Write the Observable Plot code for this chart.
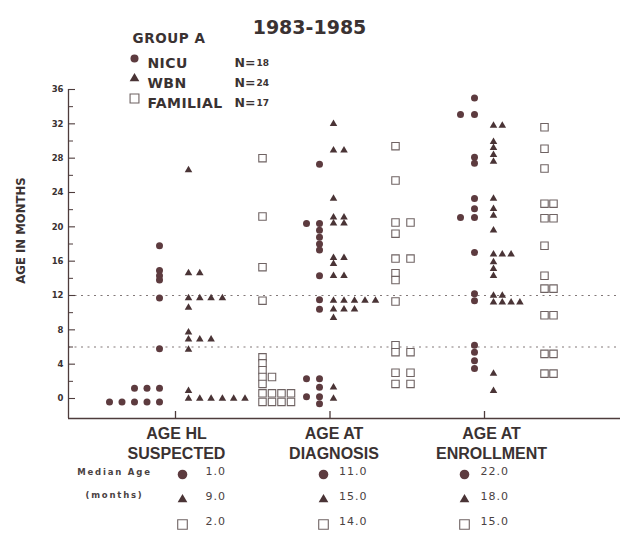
<!DOCTYPE html>
<html><head><meta charset="utf-8">
<script src="https://cdn.jsdelivr.net/npm/d3@7"></script>
<script src="https://cdn.jsdelivr.net/npm/@observablehq/plot@0.6"></script>
<style>
html,body{margin:0;padding:0;background:#fff;}
#chart{width:634px;height:534px;}
</style></head><body><div id="chart"></div>
<script>
// ---------- data ----------
const title = "1983-1985";
const groupTitle = "GROUP A";
const yLabel = "AGE IN MONTHS";
const groupLabels = ["AGE HL\nSUSPECTED", "AGE AT\nDIAGNOSIS", "AGE AT\nENROLLMENT"];
const seriesNames = ["NICU", "WBN", "FAMILIAL"];
const seriesN = ["18", "24", "17"];
const yTicks = [0, 4, 8, 12, 16, 20, 24, 28, 32, 36];
const yMinorTicks = [2, 6, 10, 14, 18, 22, 26, 30, 34];
const refLines = [12, 6];
const medianNICU = [1.0, 11.0, 22.0];
const medianWBN = [9.0, 15.0, 18.0];
const medianFAM = [2.0, 14.0, 15.0];
const medianLabel = ["Median Age", "(months)"];

// ages in months (equal values are stacked side by side)
const nicuSuspected = [17.8, 14.9, 14.3, 13.8, 11.7, 5.8, 1.2, 1.2, 1.2, -0.4, -0.4, -0.4, -0.4, -0.4];
const wbnSuspected = [26.6, 14.6, 14.6, 11.7, 11.7, 11.7, 11.7, 10.6, 7.7, 6.9, 6.9, 6.9, 5.7, 0.9, 0, 0, 0, 0, 0, 0];
const famSuspected = [28, 21.2, 15.3, 11.4, 4.8, 4.1, 3.3, 2.5, 2.5, 1.7, 0.6, 0.6, 0.6, 0.6, -0.4, -0.4, -0.4, -0.4];

const nicuDiagnosis = [27.3, 20.4, 20.4, 19.6, 18.8, 18.0, 17.3, 14.3, 11.5, 10.4, 2.3, 2.3, 1.3, 0.2, 0.2, -0.6];
const wbnDiagnosis = [32, 28.9, 28.9, 23.3, 21.1, 21.1, 20.4, 20.4, 16.4, 16.4, 15.7, 14.3, 14.3, 11.4, 11.4, 11.4, 11.4, 11.4, 10.4, 10.4, 10.4, 9.4, 1.3, 0];
const famDiagnosis = [29.4, 25.4, 20.5, 20.5, 19.2, 16.3, 16.3, 14.6, 13.8, 11.3, 6.2, 5.4, 5.4, 3.0, 3.0, 1.7, 1.7];

const nicuEnrollment = [35, 33.1, 33.1, 28.1, 27.4, 23.3, 22.1, 21.1, 21.1, 17, 12.2, 11.4, 6.2, 5.4, 4.4, 3.5];
const wbnEnrollment = [31.8, 31.8, 29.9, 29.2, 28.4, 27.6, 23.3, 22.1, 21.3, 19.6, 16.8, 16.8, 16.8, 15.9, 15.1, 14.3, 12, 12, 11.2, 11.2, 11.2, 11.2, 2.9, 0.9];
const famEnrollment = [31.6, 29.1, 26.8, 22.7, 22.7, 21.0, 21.0, 17.8, 14.3, 12.8, 12.8, 9.7, 9.7, 5.2, 5.2, 2.9, 2.9];

// ---------- layout ----------
const W = 634, H = 534;
const M = {top: 89, right: 14, bottom: 116, left: 68};
const unit = 154.5;                        // px between group ticks
const xDomain = [-(175 - M.left) / unit, (W - M.right - 175) / unit];
const yDomain = [-2.33, 36];
const frameW = W - M.left - M.right, frameH = H - M.top - M.bottom;
// column offsets / stacking steps (px) per group & series
const colOffsetPx = [[-16, 13, 87], [-10.5, 3.5, 65.5], [-10, 9, 60]];
const stepPx = [[-12.5, 11.3, 9.5], [-13, 10.5, 15], [-14, 8.8, 9]];
const labelShiftPx = [1, 4, 7];
const tableSymPx = [7, -6.5, -20];
const tableValPx = [30, 9, -4];
const tableRowDy = [56, 81, 106];

const ink = "#3a3232";
const circleFill = "#5d3b3f", triFill = "#4a3436", sqStroke = "#6f6363";
const axisInk = "#4e3c3c";

const valuesByGroup = [
  [nicuSuspected, wbnSuspected, famSuspected],
  [nicuDiagnosis, wbnDiagnosis, famDiagnosis],
  [nicuEnrollment, wbnEnrollment, famEnrollment]
];
const points = [];
valuesByGroup.forEach((arr, g) => arr.forEach((vals, s) => {
  const seen = new Map();
  vals.forEach(v => {
    const k = seen.get(v) || 0; seen.set(v, k + 1);
    points.push({g, s, value: v, x: g + (colOffsetPx[g][s] + k * stepPx[g][s]) / unit});
  });
}));

const symStyle = [
  {symbol: "circle", fill: circleFill, stroke: "none"},
  {symbol: "triangle", fill: triFill, stroke: "none"},
  {symbol: "square", fill: "#fff", stroke: sqStroke, strokeWidth: 1.1}
];
const plotR = [3.5, 2.8, 4.2];
const legendR = [4, 3.6, 5];
const tableR = [4.8, 3.6, 5.4];
const medians = [medianNICU, medianWBN, medianFAM];

const bold = {fontWeight: "bold", fill: ink, fontFamily: "DejaVu Sans"};

const marks = [
  Plot.ruleY(refLines, {stroke: "#827878", strokeWidth: 1.2, strokeDasharray: "2,4.5"}),
  Plot.ruleX([xDomain[0]], {stroke: axisInk, strokeWidth: 1.3}),
  Plot.ruleY([yDomain[0]], {stroke: axisInk, strokeWidth: 1.3}),
  Plot.tickY(yTicks, {y: d => d, insetRight: frameW - 7, stroke: axisInk, strokeWidth: 1.1}),
  Plot.tickY(yMinorTicks, {y: d => d, insetRight: frameW - 5, stroke: axisInk, strokeWidth: 1}),
  Plot.tickX([0, 1, 2], {x: d => d, insetTop: frameH - 7, stroke: axisInk, strokeWidth: 1.3}),
  Plot.text(yTicks, {y: d => d, frameAnchor: "left", textAnchor: "end", dx: -5, fontSize: 8.5, ...bold}),
  Plot.text([yLabel], {frameAnchor: "left", textAnchor: "middle", rotate: -90, dx: -47, dy: -23.5, fontSize: 11.7, ...bold}),
  // data points
  ...[0, 1, 2].map(s => Plot.dot(points.filter(d => d.s === s), {x: "x", y: "value", r: plotR[s], ...symStyle[s]})),
  // category labels
  Plot.text(groupLabels, {x: (d, i) => i + labelShiftPx[i] / unit, frameAnchor: "bottom", dy: 24,
    lineAnchor: "middle", lineHeight: 1.25, fontSize: 16, fontWeight: "bold", fill: ink, fontFamily: "Liberation Sans"}),
  // median table
  Plot.text([medianLabel[0]], {frameAnchor: "bottom-left", textAnchor: "middle", dx: 46, dy: 56, fontSize: 8.5, ...bold, fill: "#4a4242"}),
  Plot.text([medianLabel[1]], {frameAnchor: "bottom-left", textAnchor: "middle", dx: 46, dy: 79, fontSize: 8.5, ...bold, fill: "#4a4242"}),
  ...[0, 1, 2].map(s => Plot.dot([0, 1, 2], {x: i => i + tableSymPx[i] / unit, frameAnchor: "bottom", dy: tableRowDy[s], r: tableR[s], ...symStyle[s]})),
  ...[0, 1, 2].map(s => Plot.text([0, 1, 2], {x: i => i + tableValPx[i] / unit, frameAnchor: "bottom", dy: tableRowDy[s],
    text: i => medians[s][i].toFixed(1), textAnchor: "start", fontSize: 11, fontFamily: "DejaVu Sans", fill: "#4a4242"})),
  // title and legend
  Plot.text([title], {frameAnchor: "top-left", textAnchor: "middle", dx: 241, dy: -69.5, fontSize: 19, ...bold}),
  Plot.text([groupTitle], {frameAnchor: "top-left", dx: 64, dy: -56, textAnchor: "start", fontSize: 13.5, ...bold}),
  ...[0, 1, 2].map(s => Plot.dot([s], {frameAnchor: "top-left", dx: 66, dy: -31 + 20 * s, r: legendR[s], ...symStyle[s]})),
  ...[0, 1, 2].map(s => Plot.text([seriesNames[s]], {frameAnchor: "top-left", dx: 79, dy: -31 + 20 * s, textAnchor: "start", fontSize: 14, ...bold})),
  ...[0, 1, 2].map(s => Plot.text(["N="], {frameAnchor: "top-left", dx: 166, dy: -31 + 20 * s, textAnchor: "start", fontSize: 12.5, ...bold})),
  ...[0, 1, 2].map(s => Plot.text([seriesN[s]], {frameAnchor: "top-left", dx: 188, dy: -30 + 20 * s, textAnchor: "start", fontSize: 9, ...bold}))
];

const chart = Plot.plot({
  width: W, height: H,
  marginTop: M.top, marginRight: M.right, marginBottom: M.bottom, marginLeft: M.left,
  x: {domain: xDomain, axis: null},
  y: {domain: yDomain, axis: null},
  style: {background: "#fff", color: ink, fontFamily: "DejaVu Sans"},
  marks
});
chart.querySelectorAll("text").forEach(t => {
  const s = t.textContent;
  if (s === medianLabel[0] || s === medianLabel[1]) t.setAttribute("letter-spacing", "1.8");
  else if (s === groupTitle) t.setAttribute("letter-spacing", "0.6");
  else if (seriesNames.includes(s)) t.setAttribute("letter-spacing", "0.4");
  else if (/^\d+\.\d$/.test(s)) t.setAttribute("letter-spacing", "1");
});
document.getElementById("chart").appendChild(chart);
</script>
</body></html>
